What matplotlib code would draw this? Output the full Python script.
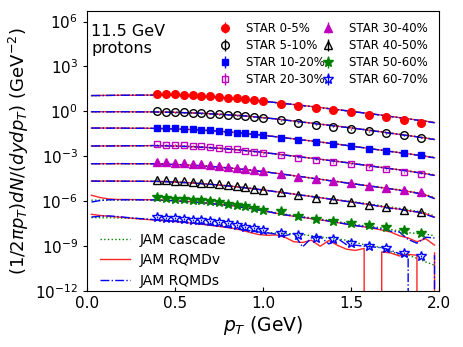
import matplotlib.pyplot as plt
import numpy as np

EMPTY = -np.inf  # model bin with no entries (line drops to the axis floor)

# STAR 11.5 GeV proton pT points (GeV)
pt_star = [0.4, 0.45, 0.5, 0.55, 0.6, 0.65, 0.7, 0.75, 0.8, 0.85, 0.9, 0.95, 1.0,
           1.1, 1.2, 1.3, 1.4, 1.5, 1.6, 1.7, 1.8, 1.9]
# JAM bin centres (GeV)
pt_model = [0.025, 0.075, 0.125, 0.175, 0.225, 0.275, 0.325, 0.375, 0.425, 0.475,
            0.525, 0.575, 0.625, 0.675, 0.725, 0.775, 0.825, 0.875, 0.925, 0.975,
            1.025, 1.075, 1.125, 1.175, 1.225, 1.275, 1.325, 1.375, 1.425, 1.475,
            1.525, 1.575, 1.625, 1.675, 1.725, 1.775, 1.825, 1.875, 1.925, 1.975]

centralities = ['0-5%', '5-10%', '10-20%', '20-30%', '30-40%', '40-50%', '50-60%', '60-70%']

# log10 of the (scaled) spectra
star_0_5 = [1.18, 1.17, 1.15, 1.12, 1.09, 1.05, 1.01, 0.97, 0.92, 0.87, 0.82, 0.76, 0.69,
            0.51, 0.38, 0.25, 0.11, -0.05, -0.22, -0.38, -0.54, -0.76]
star_5_10 = [0.0, -0.03, -0.05, -0.07, -0.09, -0.12, -0.15, -0.18, -0.22, -0.26, -0.30, -0.35, -0.42,
             -0.60, -0.76, -0.90, -1.03, -1.18, -1.33, -1.47, -1.60, -1.75]
star_10_20 = [-1.08, -1.10, -1.12, -1.15, -1.18, -1.21, -1.25, -1.30, -1.35, -1.41, -1.47, -1.53, -1.60,
              -1.75, -1.89, -2.04, -2.19, -2.33, -2.49, -2.62, -2.79, -2.92]
star_20_30 = [-2.20, -2.21, -2.23, -2.25, -2.28, -2.32, -2.37, -2.42, -2.48, -2.54, -2.61, -2.70, -2.80,
              -2.93, -3.09, -3.22, -3.38, -3.53, -3.71, -3.87, -4.05, -4.15]
star_30_40 = [-3.38, -3.39, -3.42, -3.45, -3.49, -3.53, -3.58, -3.64, -3.70, -3.77, -3.84, -3.91, -3.98,
              -4.15, -4.36, -4.52, -4.67, -4.80, -4.95, -5.10, -5.23, -5.38]
star_40_50 = [-4.55, -4.60, -4.64, -4.67, -4.71, -4.75, -4.81, -4.87, -4.93, -5.00, -5.07, -5.15, -5.22,
              -5.38, -5.60, -5.75, -5.87, -6.02, -6.22, -6.40, -6.55, -6.72]
star_50_60 = [-5.71, -5.77, -5.82, -5.86, -5.89, -5.93, -6.00, -6.08, -6.15, -6.25, -6.33, -6.43, -6.55,
              -6.65, -7.00, -7.18, -7.35, -7.42, -7.60, -7.75, -7.93, -8.10]
star_60_70 = [-7.05, -7.09, -7.14, -7.19, -7.22, -7.27, -7.31, -7.38, -7.45, -7.57, -7.69, -7.80, -7.89,
              -8.11, -8.27, -8.42, -8.55, -8.78, -9.00, -9.15, -9.45, -9.67]
star_rel_err = [0.08, 0.08, 0.08, 0.08, 0.1, 0.1, 0.12, 0.15]

# JAM cascade
cascade_0_5 = [1.05, 1.06, 1.07, 1.07, 1.08, 1.08, 1.08, 1.09, 1.08, 1.07, 1.06, 1.03, 1.01, 0.97, 0.94, 0.90, 0.85, 0.81, 0.75, 0.70,
               0.64, 0.58, 0.52, 0.46, 0.39, 0.33, 0.26, 0.19, 0.11, 0.04, -0.03, -0.10, -0.18, -0.26, -0.33, -0.42, -0.50, -0.58, -0.66, -0.75]
cascade_5_10 = [-0.03, -0.02, -0.02, -0.02, -0.03, -0.03, -0.03, -0.04, -0.04, -0.06, -0.07, -0.09, -0.12, -0.14, -0.17, -0.21, -0.24, -0.29, -0.33, -0.39,
                -0.44, -0.51, -0.57, -0.64, -0.70, -0.78, -0.84, -0.92, -0.99, -1.05, -1.13, -1.20, -1.28, -1.36, -1.44, -1.52, -1.60, -1.68, -1.77, -1.85]
cascade_10_20 = [-1.12, -1.11, -1.11, -1.12, -1.12, -1.12, -1.13, -1.13, -1.15, -1.16, -1.18, -1.21, -1.23, -1.27, -1.30, -1.35, -1.39, -1.45, -1.50, -1.57,
                 -1.62, -1.70, -1.76, -1.84, -1.90, -1.98, -2.04, -2.12, -2.18, -2.26, -2.34, -2.42, -2.50, -2.58, -2.66, -2.74, -2.82, -2.90, -2.98, -3.07]
cascade_20_30 = [-2.32, -2.31, -2.31, -2.30, -2.30, -2.30, -2.29, -2.29, -2.29, -2.31, -2.32, -2.35, -2.37, -2.41, -2.44, -2.49, -2.53, -2.59, -2.64, -2.71,
                 -2.77, -2.85, -2.91, -2.99, -3.05, -3.13, -3.19, -3.27, -3.33, -3.41, -3.49, -3.57, -3.65, -3.73, -3.81, -3.89, -3.97, -4.05, -4.14, -4.23]
cascade_30_40 = [-3.50, -3.49, -3.50, -3.49, -3.50, -3.49, -3.50, -3.50, -3.52, -3.53, -3.56, -3.58, -3.62, -3.65, -3.70, -3.74, -3.80, -3.85, -3.92, -3.98,
                 -4.06, -4.13, -4.21, -4.28, -4.36, -4.44, -4.52, -4.60, -4.68, -4.76, -4.84, -4.92, -5.00, -5.07, -5.15, -5.23, -5.32, -5.42, -5.55, -5.75]
cascade_40_50 = [-4.66, -4.65, -4.66, -4.65, -4.66, -4.67, -4.66, -4.67, -4.69, -4.70, -4.74, -4.76, -4.81, -4.84, -4.90, -4.94, -5.01, -5.06, -5.14, -5.20,
                 -5.28, -5.35, -5.43, -5.51, -5.59, -5.66, -5.74, -5.82, -5.90, -5.97, -6.05, -6.13, -6.21, -6.30, -6.38, -6.47, -6.56, -6.66, -6.78, -6.98]
cascade_50_60 = [-5.93, -5.92, -5.92, -5.92, -5.91, -5.91, -5.91, -5.92, -5.93, -5.95, -5.98, -6.02, -6.06, -6.11, -6.16, -6.22, -6.29, -6.37, -6.46, -6.56,
                 -6.66, -6.76, -6.86, -6.95, -7.03, -7.11, -7.19, -7.27, -7.36, -7.45, -7.55, -7.63, -7.70, -7.78, -7.88, -7.98, -8.10, -8.15, -8.20, -8.30]
cascade_60_70 = [-7.09, -7.10, -7.10, -7.11, -7.13, -7.16, -7.19, -7.22, -7.25, -7.30, -7.35, -7.41, -7.47, -7.54, -7.61, -7.69, -7.77, -7.86, -7.95, -8.04,
                 -8.10, -8.12, -8.15, -8.17, -8.22, -8.30, -8.38, -8.45, -8.52, -8.60, -8.75, -8.90, -8.98, -9.10, -9.35, -9.55, -9.60, -9.80, -10.05, -10.27]

# JAM RQMDv
rqmdv_0_5 = [1.06, 1.07, 1.07, 1.08, 1.08, 1.08, 1.09, 1.09, 1.09, 1.08, 1.06, 1.04, 1.01, 0.98, 0.94, 0.90, 0.86, 0.81, 0.76, 0.71,
             0.65, 0.59, 0.53, 0.46, 0.40, 0.33, 0.26, 0.19, 0.12, 0.05, -0.02, -0.10, -0.17, -0.25, -0.33, -0.41, -0.49, -0.57, -0.65, -0.74]
rqmdv_5_10 = [-0.02, -0.02, -0.02, -0.02, -0.02, -0.03, -0.03, -0.03, -0.04, -0.05, -0.07, -0.09, -0.11, -0.14, -0.17, -0.20, -0.24, -0.28, -0.33, -0.38,
              -0.44, -0.50, -0.57, -0.64, -0.71, -0.78, -0.85, -0.92, -0.99, -1.06, -1.14, -1.21, -1.29, -1.37, -1.45, -1.53, -1.61, -1.69, -1.78, -1.87]
rqmdv_10_20 = [-1.11, -1.11, -1.11, -1.11, -1.12, -1.12, -1.12, -1.13, -1.14, -1.16, -1.18, -1.20, -1.23, -1.26, -1.30, -1.34, -1.39, -1.44, -1.50, -1.56,
               -1.62, -1.69, -1.76, -1.83, -1.90, -1.97, -2.04, -2.12, -2.19, -2.27, -2.35, -2.43, -2.51, -2.59, -2.67, -2.75, -2.83, -2.91, -3.00, -3.09]
rqmdv_20_30 = [-2.31, -2.31, -2.30, -2.30, -2.30, -2.29, -2.29, -2.28, -2.29, -2.30, -2.32, -2.34, -2.37, -2.40, -2.44, -2.48, -2.53, -2.58, -2.64, -2.70,
               -2.77, -2.84, -2.91, -2.98, -3.05, -3.12, -3.19, -3.27, -3.34, -3.42, -3.50, -3.58, -3.66, -3.74, -3.82, -3.90, -3.98, -4.07, -4.16, -4.26]
rqmdv_30_40 = [-3.49, -3.49, -3.49, -3.49, -3.49, -3.49, -3.49, -3.50, -3.51, -3.53, -3.55, -3.58, -3.61, -3.65, -3.69, -3.74, -3.79, -3.85, -3.91, -3.98,
               -4.05, -4.13, -4.21, -4.29, -4.37, -4.45, -4.53, -4.61, -4.69, -4.77, -4.85, -4.93, -5.01, -5.09, -5.17, -5.25, -5.34, -5.44, -5.58, -5.80]
rqmdv_40_50 = [-4.65, -4.65, -4.65, -4.65, -4.66, -4.66, -4.66, -4.67, -4.68, -4.70, -4.73, -4.76, -4.80, -4.84, -4.89, -4.94, -5.00, -5.06, -5.13, -5.20,
               -5.28, -5.36, -5.44, -5.52, -5.60, -5.68, -5.76, -5.84, -5.92, -6.00, -6.08, -6.17, -6.26, -6.35, -6.44, -6.53, -6.62, -6.72, -6.84, -7.05]
rqmdv_50_60 = [-5.60, -5.75, -5.85, -5.88, -5.88, -5.89, -5.89, -5.90, -5.92, -5.95, -5.98, -6.02, -6.06, -6.11, -6.17, -6.23, -6.30, -6.38, -6.47, -6.58,
               -6.70, -6.80, -6.92, -7.00, -7.08, -7.16, -7.24, -7.33, -7.43, -7.53, -7.63, -7.71, -7.80, -7.92, -8.05, -8.30, -8.45, -8.70, -8.50, -8.93]
rqmdv_60_70 = [-6.87, -6.95, -7.00, -7.05, -7.10, -7.15, -7.20, -7.25, -7.28, -7.33, -7.38, -7.44, -7.50, -7.57, -7.64, -7.72, -7.80, -7.92, -8.08, -8.22,
               -8.27, -8.25, -8.40, -8.70, -8.75, -8.60, -9.00, -8.62, -8.95, -9.20, -9.28, -9.15, EMPTY, -9.38, -9.45, -9.65, -9.55, -9.60, EMPTY, -9.45]

# JAM RQMDs
rqmds_0_5 = [1.06, 1.06, 1.07, 1.08, 1.08, 1.09, 1.09, 1.09, 1.09, 1.08, 1.07, 1.04, 1.02, 0.98, 0.95, 0.90, 0.86, 0.81, 0.76, 0.70,
             0.65, 0.59, 0.52, 0.46, 0.39, 0.32, 0.25, 0.18, 0.12, 0.04, -0.03, -0.11, -0.18, -0.25, -0.34, -0.42, -0.50, -0.58, -0.66, -0.76]
rqmds_5_10 = [-0.02, -0.02, -0.03, -0.02, -0.02, -0.03, -0.03, -0.03, -0.05, -0.05, -0.07, -0.10, -0.11, -0.14, -0.18, -0.20, -0.25, -0.28, -0.33, -0.39,
              -0.45, -0.50, -0.58, -0.64, -0.72, -0.78, -0.86, -0.92, -1.00, -1.07, -1.14, -1.22, -1.30, -1.37, -1.46, -1.54, -1.62, -1.70, -1.79, -1.88]
rqmds_10_20 = [-1.11, -1.11, -1.12, -1.11, -1.12, -1.13, -1.12, -1.13, -1.14, -1.17, -1.18, -1.21, -1.23, -1.27, -1.30, -1.35, -1.39, -1.45, -1.51, -1.56,
               -1.63, -1.69, -1.77, -1.83, -1.91, -1.97, -2.05, -2.12, -2.20, -2.27, -2.36, -2.43, -2.52, -2.59, -2.68, -2.76, -2.84, -2.92, -3.01, -3.10]
rqmds_20_30 = [-2.31, -2.30, -2.31, -2.30, -2.29, -2.30, -2.29, -2.28, -2.30, -2.30, -2.33, -2.34, -2.38, -2.40, -2.45, -2.48, -2.54, -2.58, -2.65, -2.70,
               -2.78, -2.84, -2.92, -2.98, -3.06, -3.12, -3.20, -3.27, -3.35, -3.42, -3.51, -3.58, -3.67, -3.75, -3.83, -3.91, -3.99, -4.08, -4.17, -4.28]
rqmds_30_40 = [-3.49, -3.50, -3.49, -3.48, -3.49, -3.50, -3.49, -3.50, -3.51, -3.54, -3.55, -3.59, -3.61, -3.66, -3.69, -3.75, -3.79, -3.86, -3.91, -3.99,
               -4.05, -4.14, -4.21, -4.30, -4.37, -4.46, -4.53, -4.62, -4.69, -4.78, -4.85, -4.94, -5.01, -5.10, -5.17, -5.27, -5.35, -5.46, -5.60, -5.83]
rqmds_40_50 = [-4.65, -4.66, -4.65, -4.66, -4.66, -4.66, -4.67, -4.67, -4.68, -4.71, -4.73, -4.77, -4.80, -4.85, -4.89, -4.95, -5.00, -5.07, -5.13, -5.21,
               -5.28, -5.37, -5.44, -5.53, -5.60, -5.69, -5.76, -5.85, -5.92, -6.01, -6.08, -6.18, -6.26, -6.36, -6.48, -6.52, -6.66, -6.70, -6.88, -7.08]
rqmds_50_60 = [-6.05, -5.95, -5.90, -5.90, -5.90, -5.90, -5.91, -5.91, -5.93, -5.95, -5.99, -6.03, -6.07, -6.12, -6.18, -6.24, -6.31, -6.39, -6.48, -6.58,
               -6.68, -6.80, -6.90, -6.99, -7.07, -7.15, -7.24, -7.32, -7.42, -7.52, -7.62, -7.70, -7.77, -7.85, -8.00, -8.05, -8.55, -8.80, -8.40, -8.45]
rqmds_60_70 = [-7.05, -7.00, -6.98, -7.02, -7.08, -7.13, -7.18, -7.22, -7.26, -7.31, -7.36, -7.42, -7.48, -7.55, -7.62, -7.70, -7.78, -7.88, -7.97, -8.05,
               -8.10, -8.20, -8.30, -8.15, -9.05, -8.45, -8.38, -8.85, -8.49, -8.90, -8.93, -9.00, -9.05, -9.10, -9.27, -9.50, -9.71, EMPTY, EMPTY, -9.60]

star_sets = [star_0_5, star_5_10, star_10_20, star_20_30, star_30_40, star_40_50, star_50_60, star_60_70]
cascade_sets = [cascade_0_5, cascade_5_10, cascade_10_20, cascade_20_30, cascade_30_40, cascade_40_50, cascade_50_60, cascade_60_70]
rqmdv_sets = [rqmdv_0_5, rqmdv_5_10, rqmdv_10_20, rqmdv_20_30, rqmdv_30_40, rqmdv_40_50, rqmdv_50_60, rqmdv_60_70]
rqmds_sets = [rqmds_0_5, rqmds_5_10, rqmds_10_20, rqmds_20_30, rqmds_30_40, rqmds_40_50, rqmds_50_60, rqmds_60_70]

# marker, colour, face colour, size
star_styles = [('o', 'red', 'red', 5.5), ('o', 'black', 'none', 5.5), ('s', 'blue', 'blue', 5),
               ('s', 'm', 'none', 5), ('^', 'm', 'm', 6), ('^', 'black', 'none', 6),
               ('*', 'green', 'green', 7.5), ('*', 'blue', 'none', 7.5)]

fig = plt.figure(figsize=(4.63, 3.47), dpi=100)
ax = fig.add_axes([0.188, 0.161, 0.760, 0.807])

star_handles = []
for cent, vals, err, (mk, col, fc, ms) in zip(centralities, star_sets, star_rel_err, star_styles):
    y = np.power(10.0, vals)
    h = ax.errorbar(pt_star, y, yerr=err * y, fmt=mk, color=col, mfc=fc, mec=col,
                    ms=ms, mew=1.0, elinewidth=1.0, capsize=0, label='STAR ' + cent)
    star_handles.append(h)

model_handles = []
for i in range(len(centralities)):
    l1, = ax.plot(pt_model, np.power(10.0, cascade_sets[i]), ':', color='green', lw=1.0)
    l2, = ax.plot(pt_model, np.power(10.0, rqmdv_sets[i]), '-', color='red', lw=1.0, alpha=0.85)
    l3, = ax.plot(pt_model, np.power(10.0, rqmds_sets[i]), '-.', color='blue', lw=1.0)
    if i == 0:
        model_handles = [l1, l2, l3]

ax.set_yscale('log')
ax.set_xlim(0, 2)
ax.set_ylim(1e-12, 5e6)
ax.set_yticks([1e-12, 1e-9, 1e-6, 1e-3, 1e0, 1e3, 1e6])
ax.yaxis.set_minor_locator(plt.NullLocator())
ax.set_xticks([0.0, 0.5, 1.0, 1.5, 2.0])
ax.tick_params(axis='both', labelsize=11)
ax.tick_params(axis='x', direction='in', length=3)
ax.tick_params(axis='y', direction='out', length=3)

ax.set_xlabel(r'$p_T$ (GeV)', fontsize=13.5, labelpad=2)
ax.set_ylabel(r'$(1/2\pi p_T)dN/(dydp_T)$ (GeV$^{-2}$)', fontsize=13, labelpad=3)

ax.text(0.012, 0.955, '11.5 GeV\nprotons', transform=ax.transAxes, fontsize=11.5,
        va='top', ha='left', linespacing=1.2)

leg1 = ax.legend(handles=star_handles, loc='upper right', ncol=2, frameon=False,
                 fontsize=8.5, labelspacing=0.35, columnspacing=-0.7, handletextpad=0.8)
ax.add_artist(leg1)
ax.legend(model_handles, ['JAM cascade', 'JAM RQMDv', 'JAM RQMDs'], loc='lower left',
          bbox_to_anchor=(0.0, -0.032), frameon=False, fontsize=10, labelspacing=0.45,
          handlelength=2.2, handletextpad=0.7)

fig.savefig('out.png', dpi=100)
